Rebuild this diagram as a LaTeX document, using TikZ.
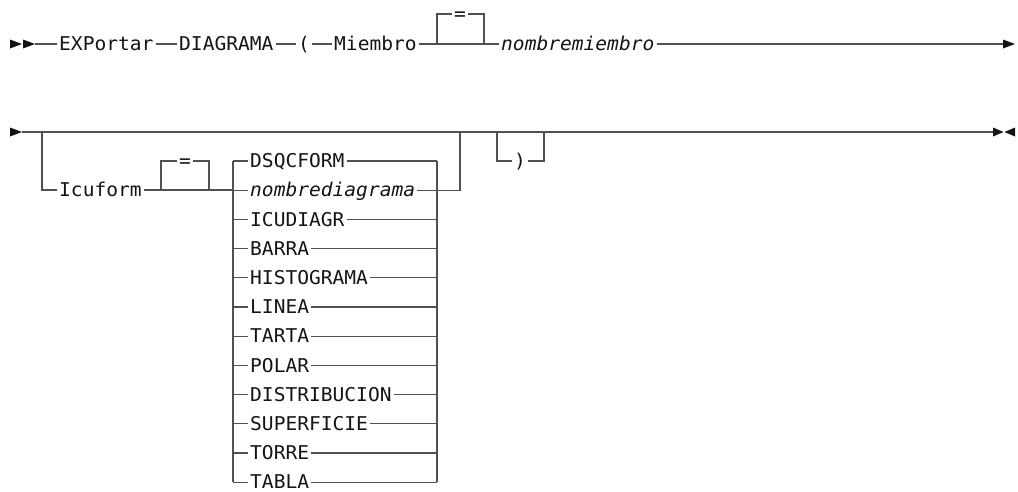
\documentclass[tikz,border=0pt]{standalone}
\usepackage{fontspec}
\newfontfamily\railfont[FakeStretch=1.03]{DejaVu Sans Mono}
\usetikzlibrary{positioning}
\definecolor{railgray}{RGB}{80,80,80}
\definecolor{railink}{RGB}{20,20,20}
\tikzset{
    rail/.style={draw=railgray, line width=1.3pt}, % the syntax lines
    kw/.style={font={\railfont\fontsize{19}{19}\selectfont}, text=railink,
        inner xsep=2pt, inner ysep=0pt, text height=13.2pt, text depth=0pt, anchor=west},
    var/.style={kw, font={\railfont\itshape\fontsize{19}{19}\selectfont}},
    tip/.style={fill=railink}, % arrow heads
}
\begin{document}
\begin{tikzpicture}[x=1pt, y=-1pt]
\useasboundingbox (0,0) rectangle (1018,491);

% first line
\fill[tip] (10,39.5) -- (22,44) -- (10,48.5) -- cycle;
\fill[tip] (23,39.5) -- (35,44) -- (23,48.5) -- cycle;
\coordinate (s1) at (35,44);
\node[kw] (exp) at (57,44) {EXPortar};
\node[kw] (diag) at (177,44) {DIAGRAMA};
\node[kw] (lpar) at (296,44) {(};
\node[kw] (mbr) at (332,44) {Miembro};
\coordinate (b1l) at (437,44);
\coordinate (b1r) at (484,44);
\node[kw, anchor=center] (eq1) at (460,14) {=};
\node[var] (nmb) at (499,44) {nombremiembro};
\coordinate (e1) at (1003,44);
\fill[tip] (1003,39.5) -- (1015,44) -- (1003,48.5) -- cycle;

\draw[rail] (s1) -- (exp) -- (diag) -- (lpar) -- (mbr) -- (b1l) -- (b1r) -- (nmb) -- (e1);
\draw[rail] (b1l) -- (b1l |- eq1) -- (eq1) -- (b1r |- eq1) -- (b1r);

% second line
\fill[tip] (10,127.5) -- (22,132) -- (10,136.5) -- cycle;
\coordinate (s2) at (22,132);
\coordinate (br) at (42,132);
\coordinate (j2) at (460,132);
\coordinate (pl) at (497,132);
\coordinate (pr) at (544,132);
\coordinate (e2) at (993,132);
\fill[tip] (993,127.5) -- (1003.5,132) -- (993,136.5) -- cycle;
\fill[tip] (1015,127.5) -- (1004.5,132) -- (1015,136.5) -- cycle;
\draw[rail] (s2) -- (e2);

% Icuform branch
\node[kw] (icu) at (57,190) {Icuform};
\coordinate (b2l) at (161,190);
\coordinate (b2r) at (209,190);
\node[kw, anchor=center] (eq2) at (185,161) {=};
\coordinate (sl) at (233,161);
\coordinate (sr) at (437,161);
\draw[rail] (br) |- (icu);
\draw[rail] (icu) -- (b2l) -- (b2r) -- (sl |- icu);
\draw[rail] (b2l) -- (b2l |- eq2) -- (eq2) -- (b2r |- eq2) -- (b2r);

% choice stack
\foreach \name/\txt [count=\i from 0] in {dsq/DSQCFORM, ndg/{\itshape nombrediagrama},
        icd/ICUDIAGR, bar/BARRA, his/HISTOGRAMA, lin/LINEA, tar/TARTA, pol/POLAR,
        dis/DISTRIBUCION, sup/SUPERFICIE, tor/TORRE, tab/TABLA} {
    \node[kw] (\name) at (248,161+29.2*\i) {\txt};
    \draw[rail] (sl |- \name) -- (\name) -- (sr |- \name);
}
\draw[rail] (sl) -- (sl |- tab);
\draw[rail] (sr) -- (sr |- tab);
\draw[rail] (sr |- ndg) -| (j2);

% optional closing parenthesis
\node[kw, anchor=center] (rpar) at (520,161) {)};
\draw[rail] (pl) |- (rpar) -| (pr);
\end{tikzpicture}
\end{document}
